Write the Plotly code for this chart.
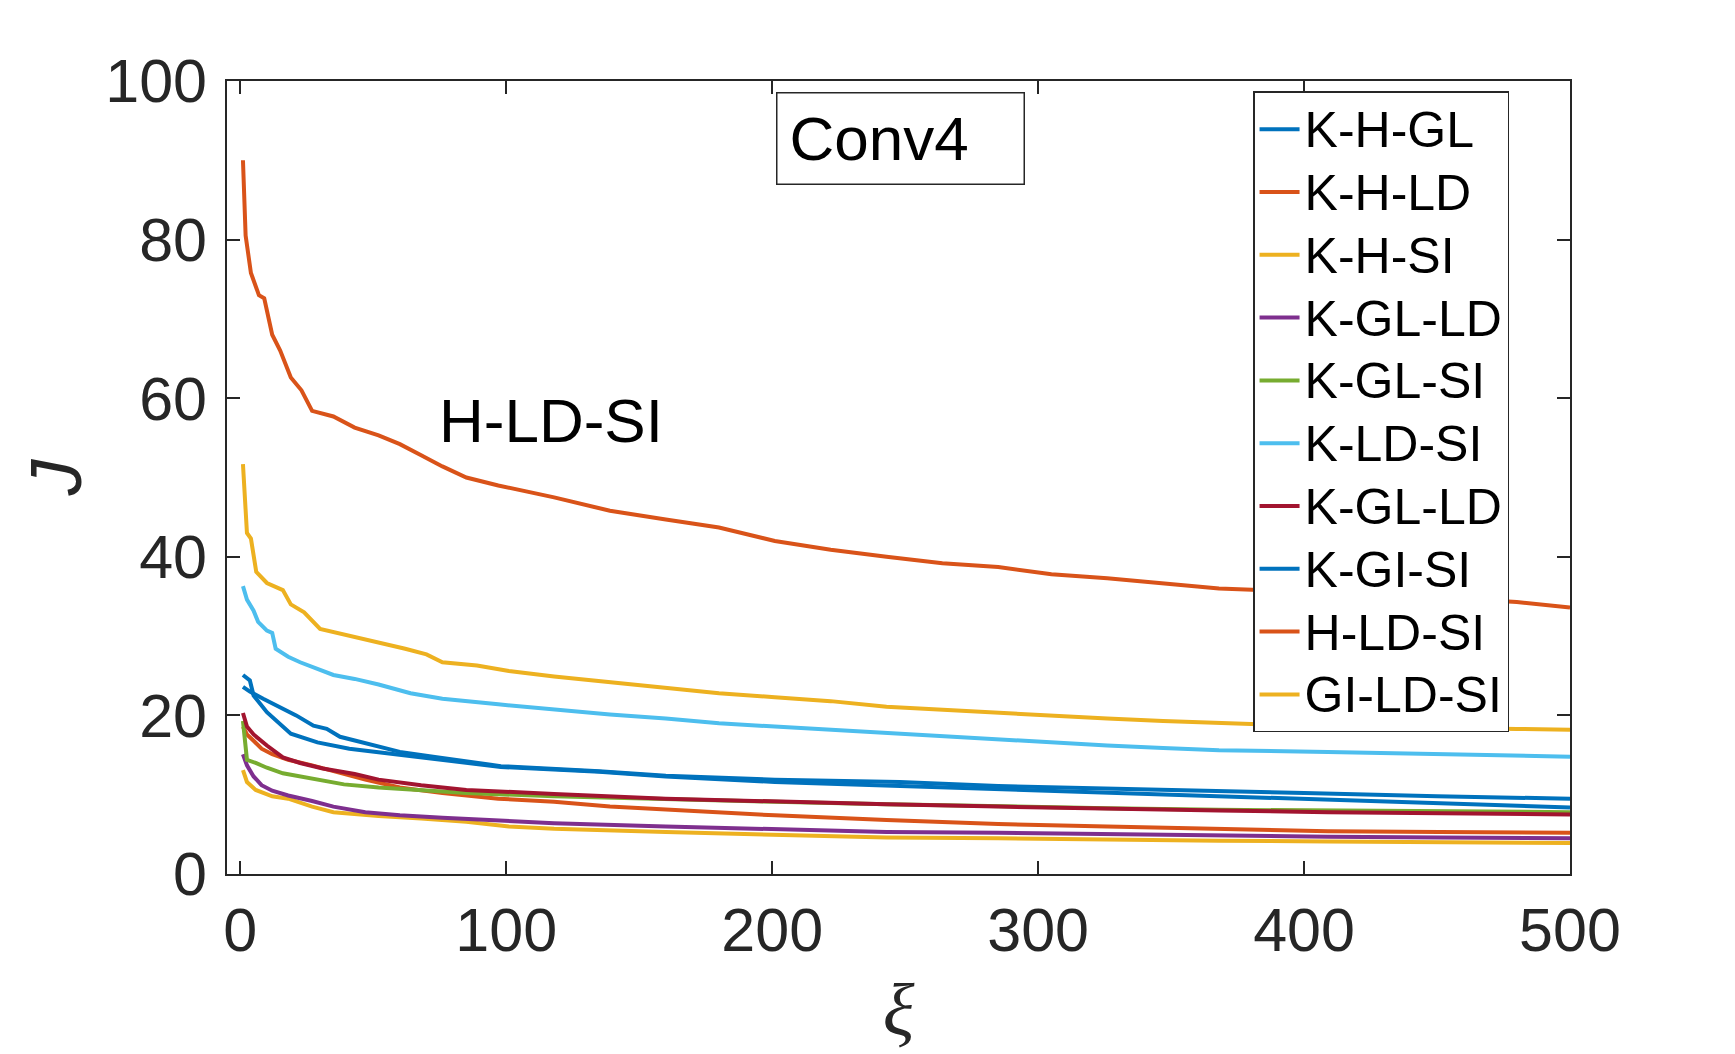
import plotly.graph_objects as go

# series (x = xi, y = J)
names = ["K-H-GL", "K-H-LD", "K-H-SI", "K-GL-LD", "K-GL-SI",
         "K-LD-SI", "K-GL-LD", "K-GI-SI", "H-LD-SI", "GI-LD-SI"]
colors = ["#0072BD", "#D95319", "#EDB120", "#7E2F8E", "#77AC30",
          "#4DBEEE", "#A2142F", "#0072BD", "#D95319", "#EDB120"]

x_khgl = [1, 3.6, 5, 10, 19, 29, 41, 60, 72, 98, 135, 160, 201, 248, 285, 342, 400, 450, 500]
y_khgl = [25.1, 24.4, 22.5, 20.4, 17.7, 16.6, 15.8, 15.0, 14.5, 13.5, 12.9, 12.3, 11.6, 11.1, 10.6, 10.0, 9.4, 8.9, 8.4]

x_khld = [1, 2.5, 5, 8, 12, 18, 27, 35, 47, 60, 76, 97, 118, 139, 160, 201, 243, 285, 326, 368, 409, 451, 500]
y_khld = [18.6, 17.6, 16.8, 15.8, 15.1, 14.4, 13.7, 13.0, 11.9, 10.9, 10.2, 9.5, 9.1, 8.5, 8.1, 7.4, 6.8, 6.3, 6.0, 5.7, 5.4, 5.3, 5.2]

x_khsi = [1, 2.5, 5.8, 12, 18, 27, 35, 52, 68, 85, 101, 118, 160, 201, 243, 285, 326, 368, 409, 500]
y_khsi = [13.1, 11.6, 10.6, 9.8, 9.5, 8.5, 7.8, 7.3, 7.0, 6.6, 6.0, 5.7, 5.3, 4.9, 4.6, 4.5, 4.3, 4.2, 4.1, 3.9]

x_kglld = [1, 2.5, 5, 8, 12, 18, 27, 35, 47, 60, 76, 97, 118, 160, 201, 243, 285, 326, 368, 409, 451, 500]
y_kglld = [15.1, 13.7, 12.3, 11.2, 10.5, 9.9, 9.2, 8.5, 7.8, 7.4, 7.1, 6.7, 6.4, 6.0, 5.6, 5.3, 5.2, 5.0, 4.9, 4.7, 4.6, 4.5]

x_kglsi = [1, 1.8, 2.5, 5.8, 10, 16, 26.6, 39, 52, 68, 85, 118, 160, 201, 243, 285, 326, 368, 409, 500]
y_kglsi = [19.3, 16.8, 14.4, 14.0, 13.4, 12.7, 12.0, 11.3, 10.9, 10.6, 10.2, 9.8, 9.4, 9.1, 8.8, 8.5, 8.3, 8.1, 8.0, 7.8]

x_kldsi = [1, 2.5, 5, 6.7, 10, 12, 13.3, 18, 22.5, 29, 35, 43, 52, 64, 76, 97, 118, 139, 160, 180, 201, 222, 243, 264, 285, 305, 326, 347, 368, 409, 451, 500]
y_kldsi = [36.3, 34.6, 33.2, 31.8, 30.7, 30.4, 28.4, 27.4, 26.7, 25.8, 25.1, 24.6, 23.9, 22.8, 22.1, 21.4, 20.7, 20.1, 19.6, 19.0, 18.6, 18.2, 17.7, 17.3, 16.9, 16.6, 16.2, 15.9, 15.6, 15.4, 15.1, 14.8]

x_kglld2 = [1, 2.5, 5, 10, 16, 22.5, 31, 43, 52, 68, 85, 101, 118, 160, 201, 243, 285, 326, 368, 409, 451, 500]
y_kglld2 = [20.3, 18.6, 17.6, 16.2, 14.7, 14.0, 13.3, 12.6, 11.9, 11.2, 10.6, 10.3, 10.1, 9.5, 9.1, 8.8, 8.5, 8.2, 8.0, 7.8, 7.7, 7.5]

x_kgisi = [1, 3.6, 8.6, 16, 21, 27.5, 32.5, 37.5, 47.5, 60, 72.5, 98, 135, 160, 201, 248, 285, 342, 400, 450, 500]
y_kgisi = [23.6, 23.0, 22.1, 20.8, 20.0, 18.7, 18.3, 17.3, 16.4, 15.4, 14.8, 13.6, 12.95, 12.4, 11.9, 11.6, 11.1, 10.6, 10.2, 9.8, 9.5]

x_hldsi = [1, 2, 4, 7, 9, 12, 15, 19, 23, 27, 35, 43, 52, 60, 68, 76, 85, 97, 118, 139, 160, 180, 201, 222, 243, 264, 285, 305, 326, 347, 368, 400, 440, 480, 500]
y_hldsi = [90.0, 80.5, 75.8, 73.0, 72.6, 68.0, 66.0, 62.6, 61.0, 58.4, 57.7, 56.3, 55.3, 54.2, 52.8, 51.4, 50.0, 49.0, 47.5, 45.8, 44.7, 43.7, 42.0, 40.9, 40.0, 39.2, 38.7, 37.8, 37.3, 36.7, 36.0, 35.6, 35.1, 34.3, 33.6]

x_gildsi = [1, 2.5, 4, 6, 10, 16, 19, 24, 30, 39, 52, 62, 70, 76, 89, 101, 118, 139, 160, 180, 201, 222, 243, 264, 285, 305, 326, 347, 368, 380, 480, 500]
y_gildsi = [51.7, 43.0, 42.3, 38.1, 36.7, 35.8, 34.0, 33.0, 30.9, 30.2, 29.3, 28.4, 27.7, 26.7, 26.3, 25.6, 24.9, 24.2, 23.5, 22.8, 22.3, 21.8, 21.1, 20.7, 20.4, 20.0, 19.6, 19.3, 19.0, 18.9, 18.3, 18.2]

xs = [x_khgl, x_khld, x_khsi, x_kglld, x_kglsi, x_kldsi, x_kglld2, x_kgisi, x_hldsi, x_gildsi]
ys = [y_khgl, y_khld, y_khsi, y_kglld, y_kglsi, y_kldsi, y_kglld2, y_kgisi, y_hldsi, y_gildsi]

x_ticks = [0, 100, 200, 300, 400, 500]
y_ticks = [0, 20, 40, 60, 80, 100]

fig = go.Figure()
for name, c, xv, yv in zip(names, colors, xs, ys):
    # legend text drawn a bit larger than the legend font so rows stay tight
    fig.add_trace(go.Scatter(x=xv, y=yv, mode="lines",
                             name=f"<span style='font-size:50px'>{name}</span>",
                             line=dict(color=c, width=4)))

axis_common = dict(
    showline=True, linecolor="#262626", linewidth=1.5, mirror="ticks",
    ticks="inside", ticklen=13, tickwidth=1.5, tickcolor="#262626",
    showgrid=False, zeroline=False,
    tickfont=dict(family="Liberation Sans, Arial", size=61, color="#262626"),
)

fig.update_xaxes(range=[-5, 500], tickvals=x_ticks, ticklabelstandoff=2,
                 title=dict(text="<i>ξ</i>", standoff=20,
                            font=dict(family="Liberation Serif", size=74, color="#262626")),
                 **axis_common)
fig.update_yaxes(range=[0, 100], tickvals=y_ticks, ticklabelstandoff=6,
                 title=dict(text="<i>J</i>", standoff=0,
                            font=dict(family="Liberation Sans, Arial", size=72, color="#262626")),
                 **axis_common)

fig.add_annotation(x=0.5015, y=0.927, xref="paper", yref="paper",
                   xanchor="center", yanchor="middle",
                   text="Conv4", showarrow=False, align="left",
                   width=222, height=66, borderpad=12,
                   bordercolor="#262626", borderwidth=1.5, bgcolor="white",
                   font=dict(family="Liberation Sans, Arial", size=62, color="black"))
fig.add_annotation(x=74, y=57.2, xref="x", yref="y", xanchor="left",
                   text="H-LD-SI", showarrow=False,
                   font=dict(family="Liberation Sans, Arial", size=62, color="black"))

fig.update_layout(
    width=1735, height=1054,
    margin=dict(l=219, r=173, t=73, b=188),
    paper_bgcolor="white", plot_bgcolor="white",
    showlegend=True,
    legend=dict(x=0.764, y=0.987, xanchor="left", yanchor="top",
                bgcolor="white", bordercolor="#262626", borderwidth=1.5,
                itemwidth=40,
                font=dict(family="Liberation Sans, Arial", size=46, color="black")),
)

fig.write_html("out.html")
